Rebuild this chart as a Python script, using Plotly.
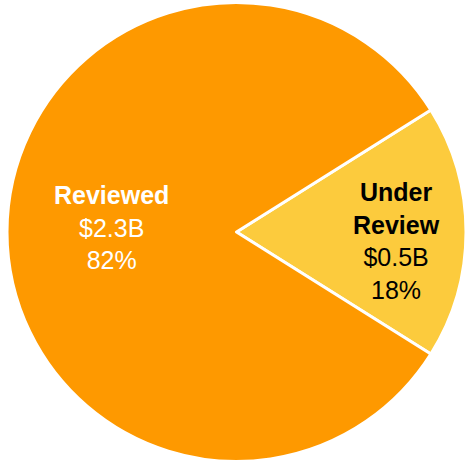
import plotly.graph_objects as go

labels = ["Under Review", "Reviewed"]
label_lines = ["Under<br>Review", "Reviewed"]
values = [0.5, 2.3]
value_text = ["$0.5B", "$2.3B"]
colors = ["#FCCB3D", "#FE9900"]
text_colors = ["#000000", "#FFFFFF"]

W, H = 466, 463
total = sum(values)
first_share = values[0] / total

fig = go.Figure(go.Pie(
    labels=labels,
    values=values,
    sort=False,
    direction="clockwise",
    rotation=90 - first_share * 360 / 2,
    marker=dict(colors=colors, line=dict(color="white", width=3)),
    textinfo="none",
    hoverinfo="label+value+percent",
    domain=dict(x=[7 / W, 1], y=[0, 1 - 1 / H]),
    showlegend=False,
))

# label positions (pixels in the figure)
label_pos = [(396, 241), (111.5, 227)]
for i, (lab, val, col, (px, py)) in enumerate(zip(label_lines, values, text_colors, label_pos)):
    pct = round(val / total * 100)
    txt = f"<b>{lab}</b><br>{value_text[i]}<br>{pct}%"
    fig.add_annotation(
        x=px / W, y=1 - py / H, xref="paper", yref="paper",
        text=txt, showarrow=False, align="center",
        xanchor="center", yanchor="middle",
        font=dict(family="Liberation Sans, Arial, sans-serif", size=25, color=col),
    )

fig.update_layout(
    width=W, height=H,
    margin=dict(l=0, r=0, t=0, b=0),
    paper_bgcolor="white",
    plot_bgcolor="white",
)

fig.write_html(
    "out.html",
    config={"displayModeBar": False},
    post_script="document.body.style.margin='0';document.body.style.overflow='hidden';",
)
